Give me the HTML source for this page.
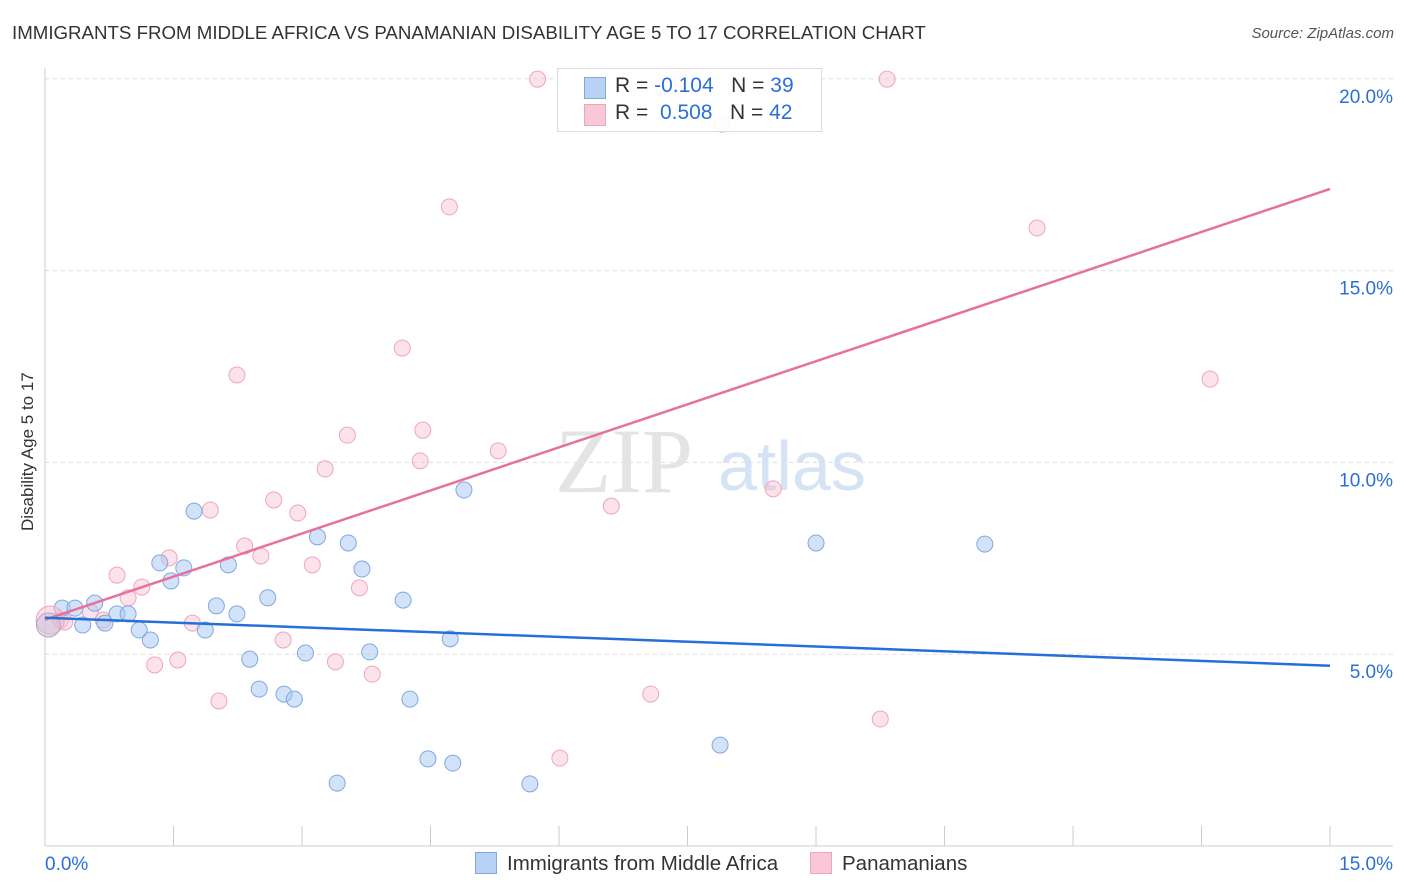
<!DOCTYPE html>
<html><head><meta charset="utf-8"><style>
body{margin:0;background:#fff;font-family:"Liberation Sans",sans-serif;}
#wrap{position:relative;width:1406px;height:892px;overflow:hidden;}
.t{position:absolute;white-space:nowrap;}
</style></head><body>
<div id="wrap">
<div class="t" style="left:12px;top:22px;font-size:18.7px;color:#333;">IMMIGRANTS FROM MIDDLE AFRICA VS PANAMANIAN DISABILITY AGE 5 TO 17 CORRELATION CHART</div>
<div class="t" style="right:12px;top:25px;font-size:15px;color:#555;font-style:italic;">Source: ZipAtlas.com</div>
<div class="t" style="left:-47px;top:446px;font-size:17px;color:#333;transform:rotate(-90deg);width:150px;text-align:center;">Disability Age 5 to 17</div>
<svg id="svg" width="1406" height="892" style="position:absolute;left:0;top:0"></svg>
<div style="position:absolute;left:557px;top:68px;width:263px;height:62px;border:1px solid #ddd;background:rgba(255,255,255,0.9);font-size:21px;">
 <div style="position:absolute;left:26px;top:8px;width:20px;height:20px;background:#b8d2f5;border:1px solid #7fa9e0;"></div>
 <div class="t" style="left:57px;top:5px;color:#333;">R = <span style="color:#2b6fd6">-0.104</span>&nbsp;&nbsp;&nbsp;N = <span style="color:#2b6fd6">39</span></div>
 <div style="position:absolute;left:26px;top:35px;width:20px;height:20px;background:#f9c8d6;border:1px solid #eea6bd;"></div>
 <div class="t" style="left:57px;top:32px;color:#333;">R = &nbsp;<span style="color:#2b6fd6">0.508</span>&nbsp;&nbsp;&nbsp;N = <span style="color:#2b6fd6">42</span></div>
</div>
<div style="position:absolute;left:475px;top:852px;font-size:20.5px;color:#333;">
 <span style="display:inline-block;width:20px;height:20px;background:#b8d2f5;border:1px solid #7fa9e0;vertical-align:-4px;margin-right:10px;"></span>Immigrants from Middle Africa</div>
<div style="position:absolute;left:810px;top:852px;font-size:20.5px;color:#333;">
 <span style="display:inline-block;width:20px;height:20px;background:#f9c8d6;border:1px solid #eea6bd;vertical-align:-4px;margin-right:10px;"></span>Panamanians</div>
</div>
<script>
const xTicks=[0,1.5,3,4.5,6,7.5,9,10.5,12,13.5,15];
const yTicks=[5,10,15,20];
const yTickLabels=["5.0%","10.0%","15.0%","20.0%"];
const blueX=[0.20,0.35,0.44,0.58,0.70,0.84,0.97,1.10,1.23,1.34,1.47,1.62,1.74,1.87,2.00,2.14,2.24,2.39,2.50,2.60,2.79,2.91,3.04,3.18,3.41,3.54,3.70,3.79,4.18,4.26,4.47,4.73,4.76,4.89,5.66,7.88,9.00,10.97];
const blueY=[6.20,6.20,5.76,6.33,5.81,6.05,6.05,5.63,5.37,7.38,6.91,7.25,8.73,5.63,6.26,7.33,6.05,4.87,4.09,6.47,3.96,3.83,5.03,8.06,1.64,7.90,7.22,5.06,6.41,3.83,2.27,5.40,2.16,9.28,1.62,2.63,7.90,7.87];
const pinkX=[0.18,0.23,0.53,0.68,0.84,0.97,1.13,1.28,1.45,1.55,1.72,1.93,2.03,2.24,2.33,2.52,2.67,2.78,2.95,3.12,3.27,3.39,3.53,3.67,3.82,4.17,4.38,4.41,4.72,5.29,5.75,6.01,6.61,7.07,7.41,7.90,8.50,9.75,9.83,11.58,13.60];
const pinkY=[5.89,5.84,6.10,5.89,7.06,6.47,6.75,4.72,7.51,4.85,5.81,8.76,3.78,12.28,7.82,7.56,9.02,5.37,8.68,7.33,9.83,4.80,10.71,6.73,4.48,12.98,10.04,10.84,16.66,10.30,19.99,2.29,8.86,3.96,19.99,18.82,9.31,3.31,19.99,16.11,12.17];
const blueBig=[0.04,5.76];
const pinkBig=[0.06,5.89];
const blueLine=[[0,5.95],[15,4.70]];
const pinkLine=[[0,5.90],[15,17.13]];
const X=v=>45+v*85.67, Y=v=>846-v*38.36;
const svg=document.getElementById('svg');const NS='http://www.w3.org/2000/svg';
function mk(t,a){const e=document.createElementNS(NS,t);for(const k in a)e.setAttribute(k,a[k]);svg.appendChild(e);return e;}
let e;
yTicks.forEach((v,i)=>{e=mk('line',{x1:45,x2:1393,y1:Y(v),y2:Y(v),stroke:'#ddd','stroke-dasharray':'4,4'});

e=mk('text',{x:1393,y:Y(v)+24,'text-anchor':'end','font-size':19,fill:'#2b6fd6','font-family':'Liberation Sans'});e.textContent=yTickLabels[i];
});
e=mk('line',{x1:45,x2:1393,y1:846,y2:846,stroke:'#ccc'});
e=mk('line',{x1:45,x2:45,y1:68,y2:846,stroke:'#ccc'});
xTicks.forEach(v=>{e=mk('line',{x1:X(v),x2:X(v),y1:826,y2:846,stroke:'#ccc'});});
e=mk('text',{x:45,y:870,'font-size':19,fill:'#2b6fd6','font-family':'Liberation Sans'});e.textContent='0.0%';
e=mk('text',{x:1393,y:870,'text-anchor':'end','font-size':19,fill:'#2b6fd6','font-family':'Liberation Sans'});e.textContent='15.0%';
e=mk('text',{x:555,y:492,'font-size':92,fill:'#e4e4e4','font-family':'Liberation Serif'});e.textContent='ZIP';
e=mk('text',{x:718,y:490,'font-size':70,fill:'#d5e3f5','font-family':'Liberation Sans'});e.textContent='atlas';
pinkX.forEach((v,i)=>{e=mk('circle',{cx:X(v),cy:Y(pinkY[i]),r:8,fill:'rgba(248,190,208,0.45)',stroke:'#eea6bd','stroke-width':1});});
blueX.forEach((v,i)=>{e=mk('circle',{cx:X(v),cy:Y(blueY[i]),r:8,fill:'rgba(165,198,242,0.5)',stroke:'#7fa9e0','stroke-width':1});});
e=mk('circle',{cx:X(pinkBig[0]),cy:Y(pinkBig[1]),r:14,fill:'rgba(248,190,208,0.5)',stroke:'#eea6bd'});
e=mk('circle',{cx:X(blueBig[0]),cy:Y(blueBig[1]),r:12,fill:'rgba(200,190,220,0.5)',stroke:'#b0a8d0'});
e=mk('line',{x1:X(pinkLine[0][0]),y1:Y(pinkLine[0][1]),x2:X(pinkLine[1][0]),y2:Y(pinkLine[1][1]),stroke:'#e8709a','stroke-width':2.5});
e=mk('line',{x1:X(blueLine[0][0]),y1:Y(blueLine[0][1]),x2:X(blueLine[1][0]),y2:Y(blueLine[1][1]),stroke:'#2470d8','stroke-width':2.5});
</script>
</body></html>
